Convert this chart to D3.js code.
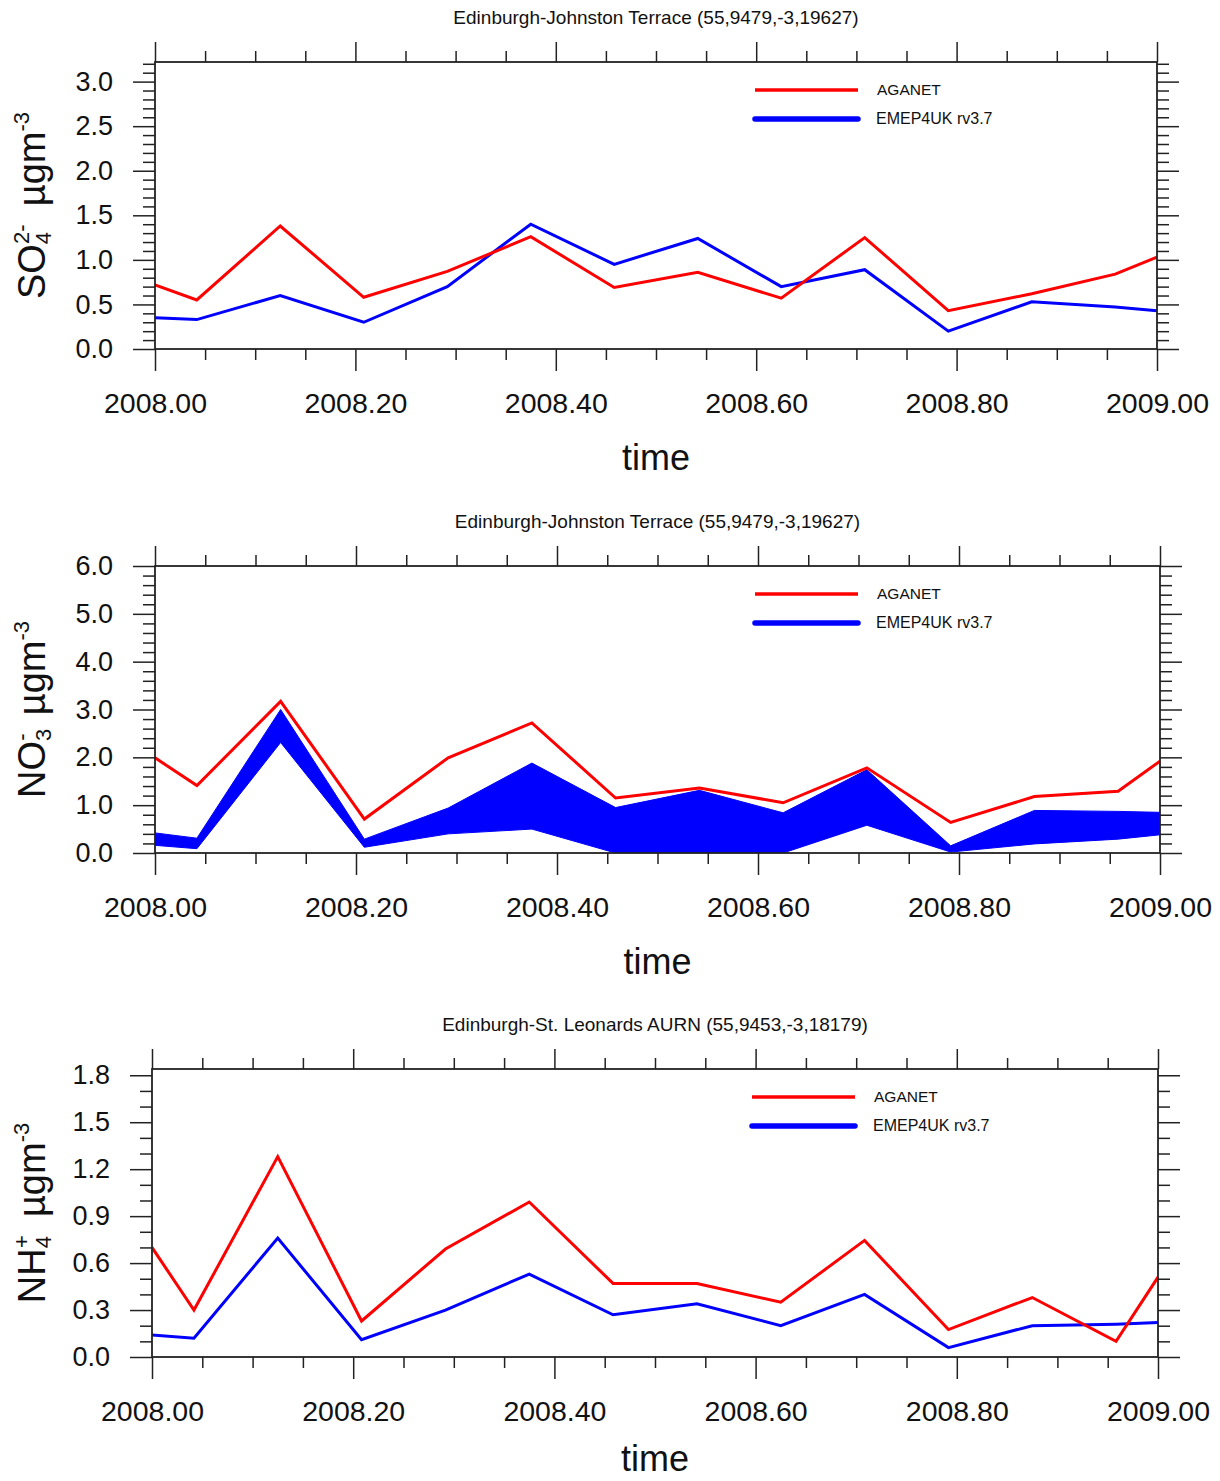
<!DOCTYPE html>
<html><head><meta charset="utf-8">
<script src="https://cdn.jsdelivr.net/npm/d3@7"></script>
<style>
body{margin:0;background:#fff}
svg text{font-family:"Liberation Sans",Arial,Helvetica,sans-serif;fill:#111}
</style>
</head><body>
<svg id="chart" width="1220" height="1481"></svg>
<script>
// ---- data ----
const times = [2008.0, 2008.0417, 2008.125, 2008.2083, 2008.2917, 2008.375, 2008.4583,
               2008.5417, 2008.625, 2008.7083, 2008.7917, 2008.875, 2008.9583, 2009.0];

const so4Aganet = [0.72,0.55,1.38,0.58,0.87,1.26,0.69,0.86,0.57,1.25,0.43,0.62,0.84,1.03];
const so4Emep   = [0.35,0.33,0.60,0.30,0.70,1.40,0.95,1.24,0.70,0.89,0.20,0.53,0.47,0.43];

const no3Aganet  = [1.99,1.41,3.17,0.71,1.99,2.72,1.15,1.36,1.05,1.78,0.64,1.18,1.29,1.92];
const no3EmepHigh= [0.42,0.31,3.00,0.29,0.94,1.88,0.95,1.31,0.84,1.74,0.15,0.89,0.87,0.85];
const no3EmepLow = [0.16,0.09,2.31,0.12,0.40,0.50,0.00,0.00,0.00,0.58,0.02,0.19,0.29,0.38];

const nh4Aganet = [0.70,0.30,1.28,0.23,0.69,0.99,0.47,0.47,0.35,0.745,0.175,0.38,0.10,0.51];
const nh4Emep   = [0.14,0.12,0.76,0.11,0.30,0.53,0.27,0.34,0.20,0.40,0.06,0.20,0.21,0.22];

const xTickValues = [2008.0, 2008.2, 2008.4, 2008.6, 2008.8, 2009.0];
const xMinorValues = [2008.05,2008.1,2008.15,2008.25,2008.3,2008.35,2008.45,2008.5,2008.55,
                      2008.65,2008.7,2008.75,2008.85,2008.9,2008.95];
const so4YTicks = [0.0,0.5,1.0,1.5,2.0,2.5,3.0];
const no3YTicks = [0.0,1.0,2.0,3.0,4.0,5.0,6.0];
const nh4YTicks = [0.0,0.3,0.6,0.9,1.2,1.5,1.8];

const titles = ["Edinburgh-Johnston Terrace (55,9479,-3,19627)",
                "Edinburgh-Johnston Terrace (55,9479,-3,19627)",
                "Edinburgh-St. Leonards AURN (55,9453,-3,18179)"];
const legendNames = ["AGANET", "EMEP4UK rv3.7"];
const xLabel = "time";

// ---- drawing ----
const svg = d3.select("#chart");
const RED = "#ff0000", BLUE = "#0000ff", INK = "#222";

function minorRange(max, step, majors){
  const out=[]; const n=Math.round(max/step);
  for(let i=0;i<=n;i++){const v=+(i*step).toFixed(3); if(!majors.some(m=>Math.abs(m-v)<1e-6)) out.push(v);}
  return out;
}

function drawPanel(cfg){
  const g = svg.append("g");
  const x = d3.scaleLinear().domain([2008,2009]).range([cfg.left,cfg.right]);
  const y = d3.scaleLinear().domain([0,cfg.ymax]).range([cfg.bottom,cfg.top]);
  const yMinor = minorRange(cfg.ymax, cfg.yStep, cfg.yTicks);

  function styleAxis(sel){
    sel.select(".domain").remove();
    sel.selectAll(".tick line").attr("stroke",INK).attr("stroke-width",1.5);
    sel.selectAll(".tick text").attr("fill","#111").style("font-family",'"Liberation Sans",Arial,sans-serif');
  }
  // bottom
  g.append("g").attr("transform",`translate(0,${cfg.bottom})`)
    .call(d3.axisBottom(x).tickValues(xTickValues).tickSize(22).tickPadding(22).tickFormat(d3.format(".2f")))
    .call(styleAxis).selectAll("text").style("font-size","28.5px");
  g.append("g").attr("transform",`translate(0,${cfg.bottom})`)
    .call(d3.axisBottom(x).tickValues(xMinorValues).tickSize(11).tickFormat("")).call(styleAxis);
  // top
  g.append("g").attr("transform",`translate(0,${cfg.top})`)
    .call(d3.axisTop(x).tickValues(xTickValues).tickSize(20).tickFormat("")).call(styleAxis);
  g.append("g").attr("transform",`translate(0,${cfg.top})`)
    .call(d3.axisTop(x).tickValues(xMinorValues).tickSize(11).tickFormat("")).call(styleAxis);
  // left
  g.append("g").attr("transform",`translate(${cfg.left},0)`)
    .call(d3.axisLeft(y).tickValues(cfg.yTicks).tickSize(22).tickPadding(20).tickFormat(d3.format(".1f")))
    .call(styleAxis).selectAll("text").style("font-size","27px");
  g.append("g").attr("transform",`translate(${cfg.left},0)`)
    .call(d3.axisLeft(y).tickValues(yMinor).tickSize(12).tickFormat("")).call(styleAxis);
  // right
  g.append("g").attr("transform",`translate(${cfg.right},0)`)
    .call(d3.axisRight(y).tickValues(cfg.yTicks).tickSize(22).tickFormat("")).call(styleAxis);
  g.append("g").attr("transform",`translate(${cfg.right},0)`)
    .call(d3.axisRight(y).tickValues(yMinor).tickSize(12).tickFormat("")).call(styleAxis);

  // clip
  const cid = "clip"+cfg.id;
  svg.append("clipPath").attr("id",cid).append("rect")
    .attr("x",cfg.left).attr("y",cfg.top).attr("width",cfg.right-cfg.left).attr("height",cfg.bottom-cfg.top);
  const plot = g.append("g").attr("clip-path",`url(#${cid})`);

  if(cfg.band){
    const area = d3.area().x((d,i)=>x(times[i])).y0((d,i)=>y(cfg.band.low[i])).y1((d,i)=>y(cfg.band.high[i]));
    plot.append("path").datum(cfg.band.high).attr("d",area).attr("fill",BLUE).attr("stroke",BLUE).attr("stroke-width",1);
  }
  const line = d3.line().x((d,i)=>x(times[i])).y(d=>y(d));
  if(cfg.blue) plot.append("path").datum(cfg.blue).attr("d",line).attr("fill","none").attr("stroke",BLUE).attr("stroke-width",3).attr("stroke-linejoin","miter");
  plot.append("path").datum(cfg.red).attr("d",line).attr("fill","none").attr("stroke",RED).attr("stroke-width",3).attr("stroke-linejoin","miter");

  // frame
  g.append("rect").attr("x",cfg.left).attr("y",cfg.top).attr("width",cfg.right-cfg.left).attr("height",cfg.bottom-cfg.top)
    .attr("fill","none").attr("stroke",INK).attr("stroke-width",1.8);

  // title
  const cx = (cfg.left+cfg.right)/2;
  g.append("text").attr("x",cx).attr("y",cfg.top-38).attr("text-anchor","middle")
    .style("font-size","19px").text(cfg.title);
  // x label
  g.append("text").attr("x",cx).attr("y",Math.min(cfg.bottom+121, 1471)).attr("text-anchor","middle")
    .style("font-size","36px").text(xLabel);

  // y label
  const cy = (cfg.top+cfg.bottom)/2;
  const yl = g.append("text").attr("transform",`translate(45,${cy}) rotate(-90)`).attr("text-anchor","middle")
    .style("font-size","38px");
  yl.append("tspan").text(cfg.yl.main);
  yl.append("tspan").attr("dy",6).style("font-size","22px").text(cfg.yl.sub);
  yl.append("tspan").attr("dx",-12).attr("dy",-22).style("font-size","22px").text(cfg.yl.sup);
  yl.append("tspan").attr("dy",16).text("\u2009 \u00b5gm");
  yl.append("tspan").attr("dy",-16).style("font-size","22px").text("-3");

  // legend
  const lx0 = cfg.left+600, lx1 = cfg.left+703, ly = cfg.top+28;
  g.append("line").attr("x1",lx0).attr("x2",lx1).attr("y1",ly).attr("y2",ly).attr("stroke",RED).attr("stroke-width",3.5);
  g.append("line").attr("x1",lx0).attr("x2",lx1).attr("y1",ly+29).attr("y2",ly+29).attr("stroke",BLUE).attr("stroke-width",5.5).attr("stroke-linecap","round");
  g.append("text").attr("x",lx1+19).attr("y",ly+5).style("font-size","15.5px").text(legendNames[0]);
  g.append("text").attr("x",lx1+18).attr("y",ly+34).style("font-size","16px").text(legendNames[1]);
}

drawPanel({id:1,left:155,right:1157,top:62,bottom:349,ymax:3.22,yTicks:so4YTicks,yStep:0.1,
  title:titles[0],red:so4Aganet,blue:so4Emep,yl:{main:"SO",sub:"4",sup:"2-"}});
drawPanel({id:2,left:155,right:1160,top:566,bottom:853,ymax:6.0,yTicks:no3YTicks,yStep:0.2,
  title:titles[1],red:no3Aganet,band:{low:no3EmepLow,high:no3EmepHigh},yl:{main:"NO",sub:"3",sup:"-"}});
drawPanel({id:3,left:152,right:1158,top:1069,bottom:1357,ymax:1.84,yTicks:nh4YTicks,yStep:0.1,
  title:titles[2],red:nh4Aganet,blue:nh4Emep,yl:{main:"NH",sub:"4",sup:"+"}});
</script>
</body></html>
